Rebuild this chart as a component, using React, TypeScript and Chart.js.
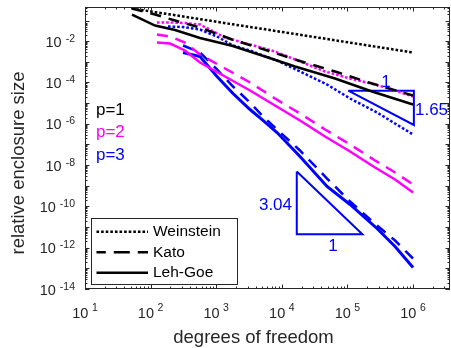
import React, { useEffect, useRef } from 'react';
import { Chart, registerables } from 'chart.js';

Chart.register(...registerables);

// ---------- data ----------
const dofP1 = [52, 117, 236, 566, 1742, 5546, 15890, 64700, 237000, 1000000];
const weinsteinP1 = [3.83e-1, 2.56e-1, 1.82e-1, 1.17e-1, 6.65e-2, 3.77e-2, 2.23e-2, 1.11e-2, 5.79e-3, 2.84e-3];
const katoP1 = [3.83e-1, 1.96e-1, 1.0e-1, 4.6e-2, 1.21e-2, 3.84e-3, 1.3e-3, 3.41e-4, 8.95e-5, 2.34e-5];
const lehGoeP1 = [1.96e-1, 5.75e-2, 3.48e-2, 1.43e-2, 5.98e-3, 1.82e-3, 5.96e-4, 1.56e-4, 3.66e-5, 8.61e-6];

const dofP2 = [125, 198, 334, 566, 1362, 3275, 7870, 18930, 45600, 109600, 263600, 532000, 1000000];
const weinsteinP2 = [8.05e-2, 8.05e-2, 7.6e-2, 6.44e-2, 1.51e-2, 6.92e-3, 3.17e-3, 1.04e-3, 3.41e-4, 1.56e-4, 8.0e-5, 4.1e-5, 2.1e-5];
const katoP2 = [2.11e-2, 1.69e-2, 8.65e-3, 2.27e-3, 4.76e-4, 1.0e-4, 1.68e-5, 3.16e-6, 5.3e-7, 9.95e-8, 1.67e-8, 4.39e-9, 1.15e-9];
const lehGoeP2 = [8.65e-3, 7.74e-3, 3.55e-3, 9.31e-4, 1.95e-4, 4.1e-5, 7.69e-6, 1.45e-6, 2.43e-7, 4.55e-8, 7.66e-9, 2.01e-9, 4.71e-10];

const dofP3Weinstein = [184, 312, 566, 1028, 1803, 3275, 5166, 8450, 18930, 48900, 109600, 282500, 532000, 1000000];
const weinsteinP3 = [5.15e-2, 4.88e-2, 3.69e-2, 1.69e-2, 6.19e-3, 3.55e-3, 2.03e-3, 1.16e-3, 3.41e-4, 8.0e-5, 1.68e-5, 3.52e-6, 1.03e-6, 3.03e-7];
const dofP3 = [312, 566, 1028, 1803, 3275, 5166, 8450, 18930, 48900, 109600, 282500, 532000, 1000000];
const katoP3 = [6.19e-3, 2.84e-3, 4.27e-4, 6.4e-5, 1.07e-5, 2.25e-6, 5.3e-7, 5.09e-8, 2.24e-9, 1.73e-10, 1.19e-11, 2.23e-12, 3.0e-13];
const lehGoeP3 = [2.84e-3, 1.82e-3, 1.95e-4, 2.93e-5, 4.92e-6, 1.45e-6, 3.79e-7, 2.61e-8, 9.2e-10, 1.24e-10, 8.51e-12, 1.14e-12, 1.1e-13];

// slope triangles (closed polygons in data coordinates)
const triangleUpperX = [1.03e5, 1.03e6, 1.03e6, 1.03e5];
const triangleUpperY = [4.01e-5, 4.01e-5, 8.75e-7, 4.01e-5];
const triangleLowerX = [1.69e4, 1.69e4, 1.69e5, 1.69e4];
const triangleLowerY = [4.89e-9, 4.46e-12, 4.46e-12, 4.89e-9];

// axis ranges and tick labels
const xMin = 10;
const xMax = 3.66e6;
const yMin = 1e-14;
const yMax = 0.453;
const xTickExponents = [1, 2, 3, 4, 5, 6];
const yTickExponents = [-14, -12, -10, -8, -6, -4, -2];

const xTitle = 'degrees of freedom';
const yTitle = 'relative enclosure size';
const legendLabels = ['Weinstein', 'Kato', 'Leh-Goe'];

// text annotations: [text, x, y, align, color]
const annotationTexts = ['1', '1.65', '3.04', '1', 'p=1', 'p=2', 'p=3'];
const annotationX = [3.87e5, 1.07e6, 1.43e4, 6.03e4, 14.7, 14.7, 14.7];
const annotationY = [6.05e-5, 2.67e-6, 6.7e-11, 6.92e-13, 2.67e-6, 2.3e-7, 1.77e-8];
const annotationAlign = ['center', 'left', 'right', 'center', 'left', 'left', 'left'];

const BLACK = '#000000';
const MAGENTA = '#ff00ff';
const BLUE = '#0000ff';
const annotationColors = [BLUE, BLUE, BLUE, BLUE, BLACK, MAGENTA, BLUE];

const FONT = '"Liberation Sans", Arial, Helvetica, sans-serif';
const AXIS = '#262626';

const DOTTED = [2.6, 2.0];
const DASHED = [11, 8];

const pts = (xs: number[], ys: number[]) => xs.map((x, i) => ({ x, y: ys[i] }));

const series = (label: string, xs: number[], ys: number[], color: string, dash: number[], width = 2.5) => ({
  label,
  data: pts(xs, ys),
  borderColor: color,
  backgroundColor: color,
  borderWidth: width,
  borderDash: dash,
  borderCapStyle: 'butt' as const,
  borderJoinStyle: 'miter' as const,
  pointRadius: 0,
  fill: false,
  tension: 0,
});

const axesPlugin = {
  id: 'matlabAxes',
  afterDatasetsDraw(chart: any) {
    const { ctx, chartArea: a, scales } = chart;
    const xs = scales.x;
    const ys = scales.y;
    ctx.save();
    ctx.strokeStyle = AXIS;
    ctx.lineWidth = 1;
    ctx.setLineDash([]);
    const seg = (x1: number, y1: number, x2: number, y2: number) => {
      ctx.beginPath();
      ctx.moveTo(x1, y1);
      ctx.lineTo(x2, y2);
      ctx.stroke();
    };
    // x ticks (bottom and top)
    for (let e = 1; e <= 7; e++) {
      for (let m = 1; m <= 9; m++) {
        const v = m * Math.pow(10, e);
        if (v > xs.max) break;
        const px = Math.round(xs.getPixelForValue(v)) + 0.5;
        const len = m === 1 ? 4.5 : 2.5;
        seg(px, a.bottom, px, a.bottom - len);
        seg(px, a.top, px, a.top + len);
      }
    }
    // y ticks (left and right)
    for (let e = -14; e <= 0; e++) {
      for (let m = 1; m <= 9; m++) {
        const v = m * Math.pow(10, e);
        if (v > ys.max) break;
        const py = Math.round(ys.getPixelForValue(v)) + 0.5;
        const len = m === 1 ? 4.5 : 2.5;
        seg(a.left, py, a.left + len, py);
        seg(a.right, py, a.right - len, py);
      }
    }
    // box
    ctx.strokeRect(a.left + 0.5, a.top + 0.5, a.right - a.left - 1, a.bottom - a.top - 1);
    ctx.restore();
  },
  afterDraw(chart: any) {
    const { ctx, chartArea: a, scales } = chart;
    const xs = scales.x;
    const ys = scales.y;
    ctx.save();
    ctx.fillStyle = AXIS;
    ctx.textBaseline = 'alphabetic';
    // x tick labels
    const big = `14.5px ${FONT}`;
    const small = `10.5px ${FONT}`;
    for (const e of xTickExponents) {
      const px = xs.getPixelForValue(Math.pow(10, e));
      ctx.font = big;
      const wb = ctx.measureText('10').width;
      ctx.font = small;
      const ws = ctx.measureText(String(e)).width;
      const gap = 3.5;
      const left = px - (wb + gap + ws) / 2;
      ctx.textAlign = 'left';
      ctx.font = big;
      ctx.fillText('10', left, a.bottom + 29);
      ctx.font = small;
      ctx.fillText(String(e), left + wb + gap, a.bottom + 21.5);
    }
    // y tick labels
    for (const e of yTickExponents) {
      const py = ys.getPixelForValue(Math.pow(10, e));
      ctx.font = small;
      const ws = ctx.measureText('-' + Math.abs(e)).width;
      const right = a.left - 10;
      ctx.textAlign = 'right';
      ctx.fillText('-' + Math.abs(e), right, py + 0.5);
      ctx.font = big;
      ctx.fillText('10', right - ws - 4, py + 5.5);
    }
    // axis titles
    ctx.font = `18.5px ${FONT}`;
    ctx.textAlign = 'center';
    ctx.fillText(xTitle, 253.5, a.bottom + 54);
    ctx.save();
    ctx.translate(24, 163);
    ctx.rotate(-Math.PI / 2);
    ctx.fillText(yTitle, 0, 0);
    ctx.restore();

    // annotations
    ctx.font = `17px ${FONT}`;
    annotationTexts.forEach((t, i) => {
      ctx.fillStyle = annotationColors[i];
      ctx.textAlign = annotationAlign[i] as CanvasTextAlign;
      ctx.fillText(t, xs.getPixelForValue(annotationX[i]), ys.getPixelForValue(annotationY[i]));
    });

    // legend
    const lx = 91, ly = 218, lw = 146, lh = 66;
    ctx.fillStyle = '#ffffff';
    ctx.fillRect(lx, ly, lw, lh);
    ctx.strokeStyle = AXIS;
    ctx.lineWidth = 1;
    ctx.setLineDash([]);
    ctx.strokeRect(lx + 0.5, ly + 0.5, lw, lh);
    const rows = [231.7, 252.3, 272.7];
    const dashes = [DOTTED, [16, 8], []];
    const offsets = [0, 6.7, 0];
    legendLabels.forEach((lab, i) => {
      ctx.strokeStyle = BLACK;
      ctx.lineWidth = 2.5;
      ctx.lineCap = 'butt';
      ctx.setLineDash(dashes[i]);
      ctx.lineDashOffset = offsets[i];
      ctx.beginPath();
      ctx.moveTo(96.5, rows[i]);
      ctx.lineTo(148, rows[i]);
      ctx.stroke();
      ctx.setLineDash([]);
      ctx.fillStyle = BLACK;
      ctx.font = `15.5px ${FONT}`;
      ctx.textAlign = 'left';
      ctx.textBaseline = 'middle';
      ctx.fillText(lab, 153, rows[i] + 0.5);
    });
    ctx.restore();
  },
};

export default function App() {
  const canvasRef = useRef<HTMLCanvasElement | null>(null);

  useEffect(() => {
    if (!canvasRef.current) return;
    const chart = new Chart(canvasRef.current, {
      type: 'line',
      data: {
        datasets: [
          series('Weinstein p=1', dofP1, weinsteinP1, BLACK, DOTTED),
          series('Kato p=1', dofP1, katoP1, BLACK, DASHED),
          series('Leh-Goe p=1', dofP1, lehGoeP1, BLACK, []),
          series('Weinstein p=2', dofP2, weinsteinP2, MAGENTA, DOTTED),
          series('Kato p=2', dofP2, katoP2, MAGENTA, DASHED),
          series('Leh-Goe p=2', dofP2, lehGoeP2, MAGENTA, []),
          series('Weinstein p=3', dofP3Weinstein, weinsteinP3, BLUE, DOTTED),
          series('Kato p=3', dofP3, katoP3, BLUE, DASHED),
          series('Leh-Goe p=3', dofP3, lehGoeP3, BLUE, [], 3),
          series('slope 1.65', triangleUpperX, triangleUpperY, BLUE, [], 2),
          series('slope 3.04', triangleLowerX, triangleLowerY, BLUE, [], 2),
        ],
      },
      options: {
        responsive: false,
        animation: false,
        devicePixelRatio: 1,
        layout: { padding: { left: 85, top: 7, right: 1, bottom: 59 } },
        plugins: { legend: { display: false }, tooltip: { enabled: false }, title: { display: false } },
        scales: {
          x: { type: 'logarithmic', min: xMin, max: xMax, display: false },
          y: { type: 'logarithmic', min: yMin, max: yMax, display: false },
        },
      },
      plugins: [axesPlugin],
    });
    return () => chart.destroy();
  }, []);

  return (
    <canvas
      ref={canvasRef}
      width={451}
      height={348}
      style={{ position: 'fixed', left: 0, top: 0, width: 451, height: 348 }}
    />
  );
}
